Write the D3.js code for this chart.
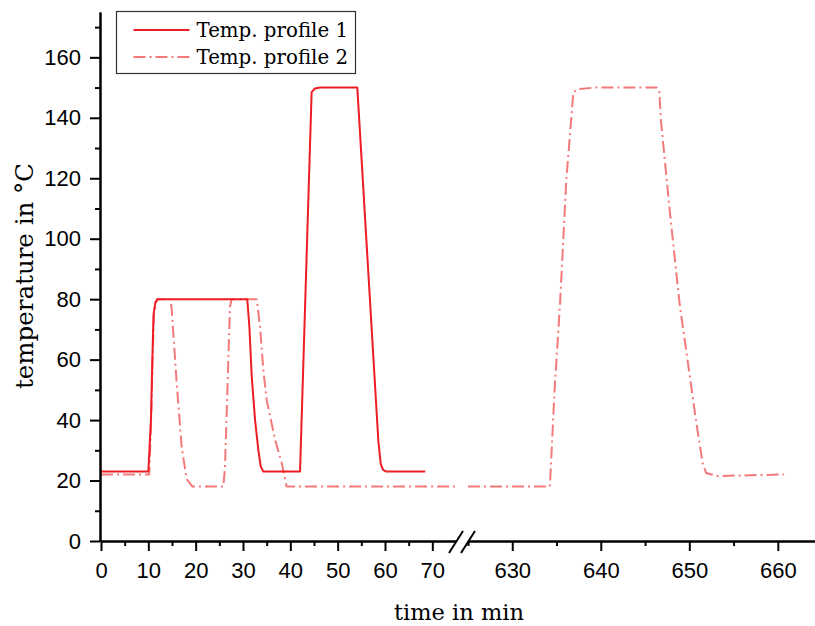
<!DOCTYPE html>
<html>
<head>
<meta charset="utf-8">
<script src="https://cdn.jsdelivr.net/npm/d3@7"></script>
<style>
  body { margin: 0; background: #fff; }
  svg { display: block; }
</style>
</head>
<body>
<div id="chart"></div>
<script>
// --- Data (time in min, temperature in °C) ---
const time1 = [0, 10, 10.55, 10.85, 11.1, 11.5, 12, 30.9, 31.35, 31.85, 32.55, 33.25, 33.75, 34.3,
    42.05, 44.5, 45.2, 46.3, 54.15, 58.6, 59.1, 59.6, 60.2, 68.5];
const temp1 = [23, 23, 40, 60, 75, 79, 80, 80, 70.8, 54.3, 40, 30, 24.6, 23,
    23, 148.5, 149.7, 150, 150, 33, 25.5, 23.5, 23, 23];

const time2 = [0, 10.2, 10.6, 10.9, 11.2, 11.8, 14.6, 14.9, 16.0, 17.05, 18.1, 19.3,
    25.85, 26.2, 26.9, 27.25, 27.6, 32.9, 33.6, 34.3, 35.0, 36.8, 38.2, 39.2, 75,
    625, 634.25, 634.8, 635.4, 635.8, 636.1, 636.5, 636.9, 637.5, 639.3, 646.3, 646.6,
    646.8, 647.8, 648.9, 649.7, 650.8, 651.5, 651.9, 653.2, 660.7];
const temp2 = [22, 22, 40, 60, 75, 80, 80, 77.5, 52, 31, 20.5, 18,
    18, 24.6, 59.8, 77.5, 80, 80, 70.8, 56.5, 46.6, 33.4, 25.7, 18, 18,
    18, 18, 51, 78.6, 101.8, 119.3, 133.7, 148.5, 149.5, 150, 150, 149.3,
    139, 109, 78.6, 62, 39, 25.8, 22.5, 21.5, 22];

const seriesNames = ["Temp. profile 1", "Temp. profile 2"];

const xTicksLeft = [0, 10, 20, 30, 40, 50, 60, 70];
const xMinorLeft = [5, 15, 25, 35, 45, 55, 65];
const xTicksRight = [630, 640, 650, 660];
const xMinorRight = [625, 635, 645, 655];
const yTicks = [0, 20, 40, 60, 80, 100, 120, 140, 160];
const yMinor = [10, 30, 50, 70, 90, 110, 130, 150, 170];

// --- Layout ---
const W = 815, H = 626;
const BREAK_L = 75, BREAK_R = 625;

const svg = d3.select("#chart").append("svg")
    .attr("width", W).attr("height", H);

// broken x axis: two linear pieces
const xL = d3.scaleLinear().domain([0, BREAK_L]).range([101, 456]);
const xR = d3.scaleLinear().domain([BREAK_R, 664.2]).range([468, 815]);
const x = t => t <= BREAK_L ? xL(t) : xR(t);
const y = d3.scaleLinear().domain([0, 175]).range([541, 12]);

const colors = ["#ee1c24", "#f47a7a"];

// --- Lines ---
function segments(ts, vs) {
    const pts = ts.map((t, i) => ({ t, v: vs[i] }));
    return [pts.filter(d => d.t <= BREAK_L), pts.filter(d => d.t >= BREAK_R)]
        .filter(s => s.length > 1);
}

const line = d3.line().x(d => x(d.t)).y(d => y(d.v));

const plot = svg.append("g");
[[time2, temp2, 1], [time1, temp1, 0]].forEach(([ts, vs, k]) => {
    segments(ts, vs).forEach(seg => {
        plot.append("path")
            .attr("d", line(seg))
            .attr("fill", "none")
            .attr("stroke", colors[k])
            .attr("stroke-width", 2)
            .attr("stroke-linejoin", "round")
            .attr("stroke-dasharray", k === 1 ? "12,4,2,4" : null);
    });
});

// --- Axes ---
const tickFont = "'Liberation Sans', Arial, sans-serif";

function styleAxis(g) {
    g.selectAll("path.domain").attr("stroke", "#000").attr("stroke-width", 2);
    g.selectAll(".tick line").attr("stroke", "#000").attr("stroke-width", 2);
    g.selectAll(".tick text").attr("font-family", tickFont).attr("font-size", 22).attr("fill", "#000");
}

const xAxisY = y(0);
svg.append("g").attr("transform", `translate(0,${xAxisY})`)
    .call(d3.axisBottom(xL).tickValues(xMinorLeft).tickSize(5).tickSizeOuter(0).tickFormat(""))
    .call(styleAxis);
svg.append("g").attr("transform", `translate(0,${xAxisY})`)
    .call(d3.axisBottom(xL).tickValues(xTicksLeft).tickSize(10).tickSizeOuter(0).tickPadding(11))
    .call(styleAxis);
svg.append("g").attr("transform", `translate(0,${xAxisY})`)
    .call(d3.axisBottom(xR).tickValues(xMinorRight).tickSize(5).tickSizeOuter(0).tickFormat(""))
    .call(styleAxis);
svg.append("g").attr("transform", `translate(0,${xAxisY})`)
    .call(d3.axisBottom(xR).tickValues(xTicksRight).tickSize(10).tickSizeOuter(0).tickPadding(11))
    .call(styleAxis);

svg.append("g").attr("transform", "translate(100,0)")
    .call(d3.axisLeft(y).tickValues(yMinor).tickSize(5).tickSizeOuter(0).tickFormat(""))
    .call(styleAxis);
svg.append("g").attr("transform", "translate(100,0)")
    .call(d3.axisLeft(y).tickValues(yTicks).tickSize(10).tickSizeOuter(0).tickPadding(9))
    .call(styleAxis);

// axis break marks
[BREAK_L, BREAK_R].forEach(t => {
    const cx = x(t);
    svg.append("line")
        .attr("x1", cx - 7).attr("y1", xAxisY + 12)
        .attr("x2", cx + 7).attr("y2", xAxisY - 10)
        .attr("stroke", "#000").attr("stroke-width", 2);
});

// --- Axis titles ---
const titleFont = "'DejaVu Serif', 'Liberation Serif', serif";
svg.append("text")
    .attr("x", 459).attr("y", 620)
    .attr("text-anchor", "middle")
    .attr("font-family", titleFont).attr("font-size", 22.5)
    .text("time in min");
svg.append("text")
    .attr("transform", "translate(33,276) rotate(-90)")
    .attr("text-anchor", "middle")
    .attr("font-family", titleFont).attr("font-size", 24.5)
    .text("temperature in °C");

// --- Legend ---
const legend = svg.append("g").attr("transform", "translate(116.5,11.5)");
legend.append("rect")
    .attr("width", 239).attr("height", 62)
    .attr("fill", "#fff").attr("stroke", "#333").attr("stroke-width", 1.2);
seriesNames.forEach((name, i) => {
    const ly = 18.5 + i * 27;
    legend.append("line")
        .attr("x1", 17).attr("x2", 73).attr("y1", ly).attr("y2", ly)
        .attr("stroke", colors[i]).attr("stroke-width", 2)
        .attr("stroke-dasharray", i === 1 ? "12,4,2,4" : null);
    legend.append("text")
        .attr("x", 80).attr("y", ly).attr("dy", "0.35em")
        .attr("font-family", titleFont).attr("font-size", 19.8)
        .text(name);
});
</script>
</body>
</html>
